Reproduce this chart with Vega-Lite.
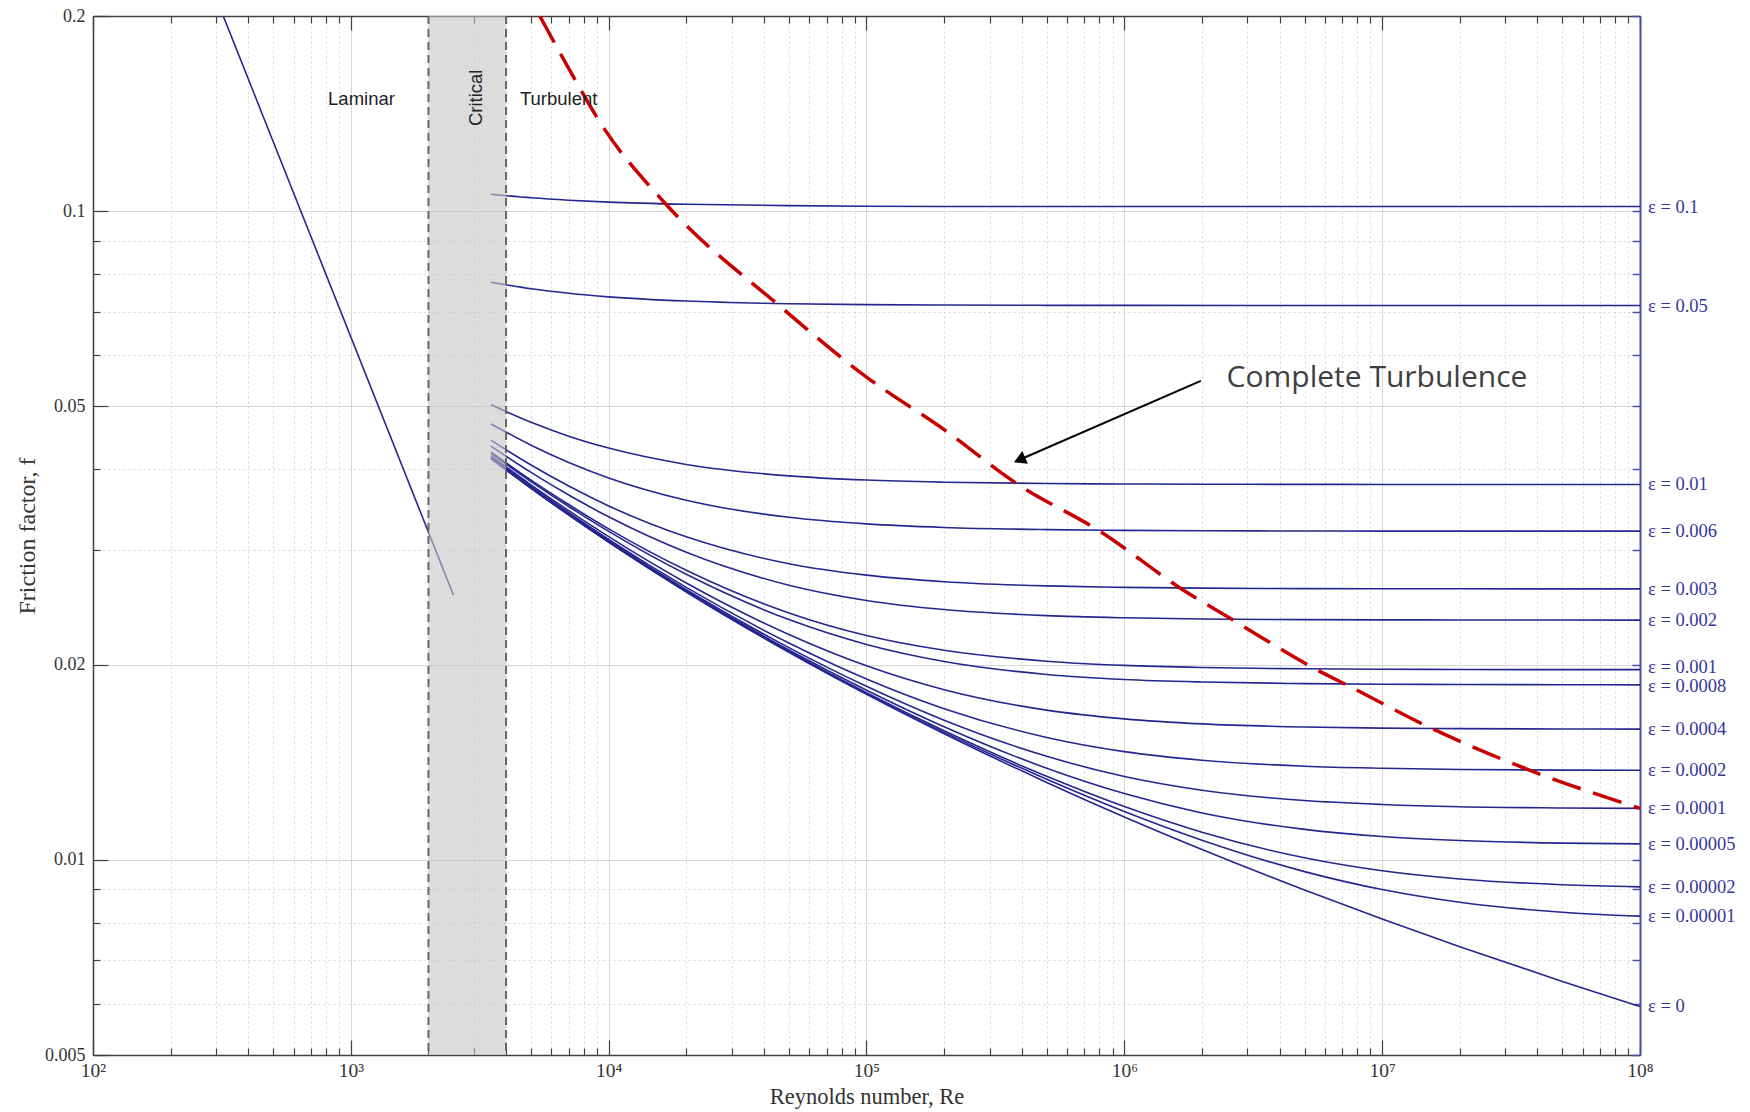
{
  "$schema": "https://vega.github.io/schema/vega-lite/v6.json",
  "width": 1547,
  "height": 1039,
  "autosize": {"type": "none"},
  "padding": {"left": 93, "top": 16, "right": 110, "bottom": 57},
  "background": "white",
  "config": {
    "view": {"stroke": null},
    "axis": {
      "labelFont": "Liberation Serif", "labelFontSize": 18, "labelColor": "#333333",
      "titleFont": "Liberation Serif", "titleFontSize": 22.5, "titleFontWeight": "normal", "titleColor": "#333333"
    }
  },
  "datasets": {
    "curves": [
      {"e":"lam","Re":320,"f":0.2},{"e":"lam","Re":2500,"f":0.0256},
      {"e":"0.1","Re":3500,"f":0.1062},{"e":"0.1","Re":5000,"f":0.1049},{"e":"0.1","Re":7000,"f":0.1040},{"e":"0.1","Re":10000,"f":0.1033},{"e":"0.1","Re":20000,"f":0.1025},{"e":"0.1","Re":50000,"f":0.1020},{"e":"0.1","Re":100000,"f":0.1018},{"e":"0.1","Re":200000,"f":0.1017},{"e":"0.1","Re":1000000,"f":0.1017},{"e":"0.1","Re":10000000,"f":0.1017},{"e":"0.1","Re":100000000,"f":0.1017},
      {"e":"0.05","Re":3500,"f":0.07772},{"e":"0.05","Re":5000,"f":0.07594},{"e":"0.05","Re":7000,"f":0.07473},{"e":"0.05","Re":10000,"f":0.07379},{"e":"0.05","Re":20000,"f":0.07269},{"e":"0.05","Re":50000,"f":0.07201},{"e":"0.05","Re":100000,"f":0.07178},{"e":"0.05","Re":200000,"f":0.07167},{"e":"0.05","Re":500000,"f":0.0716},{"e":"0.05","Re":1000000,"f":0.07158},{"e":"0.05","Re":10000000,"f":0.07156},{"e":"0.05","Re":100000000,"f":0.07155},
      {"e":"0.01","Re":3500,"f":0.05032},{"e":"0.01","Re":5000,"f":0.04726},{"e":"0.01","Re":7000,"f":0.04499},{"e":"0.01","Re":10000,"f":0.04313},{"e":"0.01","Re":20000,"f":0.0407},{"e":"0.01","Re":50000,"f":0.03908},{"e":"0.01","Re":100000,"f":0.0385},{"e":"0.01","Re":200000,"f":0.03821},{"e":"0.01","Re":500000,"f":0.03803},{"e":"0.01","Re":1000000,"f":0.03797},{"e":"0.01","Re":2000000,"f":0.03793},{"e":"0.01","Re":5000000,"f":0.03792},{"e":"0.01","Re":10000000,"f":0.03791},{"e":"0.01","Re":100000000,"f":0.0379},
      {"e":"0.006","Re":3500,"f":0.04697},{"e":"0.006","Re":5000,"f":0.04358},{"e":"0.006","Re":7000,"f":0.04099},{"e":"0.006","Re":10000,"f":0.0388},{"e":"0.006","Re":20000,"f":0.03584},{"e":"0.006","Re":50000,"f":0.03373},{"e":"0.006","Re":100000,"f":0.03295},{"e":"0.006","Re":200000,"f":0.03254},{"e":"0.006","Re":500000,"f":0.03229},{"e":"0.006","Re":1000000,"f":0.0322},{"e":"0.006","Re":2000000,"f":0.03216},{"e":"0.006","Re":5000000,"f":0.03213},{"e":"0.006","Re":10000000,"f":0.03212},{"e":"0.006","Re":100000000,"f":0.03212},
      {"e":"0.003","Re":3500,"f":0.04432},{"e":"0.003","Re":5000,"f":0.04061},{"e":"0.003","Re":7000,"f":0.03769},{"e":"0.003","Re":10000,"f":0.03512},{"e":"0.003","Re":20000,"f":0.03147},{"e":"0.003","Re":50000,"f":0.02861},{"e":"0.003","Re":100000,"f":0.02747},{"e":"0.003","Re":200000,"f":0.02684},{"e":"0.003","Re":500000,"f":0.02644},{"e":"0.003","Re":1000000,"f":0.0263},{"e":"0.003","Re":2000000,"f":0.02623},{"e":"0.003","Re":5000000,"f":0.02619},{"e":"0.003","Re":10000000,"f":0.02618},{"e":"0.003","Re":20000000,"f":0.02617},{"e":"0.003","Re":100000000,"f":0.02616},
      {"e":"0.002","Re":3500,"f":0.04341},{"e":"0.002","Re":5000,"f":0.03957},{"e":"0.002","Re":7000,"f":0.03651},{"e":"0.002","Re":10000,"f":0.03379},{"e":"0.002","Re":20000,"f":0.02979},{"e":"0.002","Re":50000,"f":0.02651},{"e":"0.002","Re":100000,"f":0.02511},{"e":"0.002","Re":200000,"f":0.02431},{"e":"0.002","Re":500000,"f":0.02379},{"e":"0.002","Re":1000000,"f":0.02361},{"e":"0.002","Re":2000000,"f":0.02351},{"e":"0.002","Re":5000000,"f":0.02346},{"e":"0.002","Re":10000000,"f":0.02344},{"e":"0.002","Re":20000000,"f":0.02343},{"e":"0.002","Re":100000000,"f":0.02342},
      {"e":"0.001","Re":3500,"f":0.0425},{"e":"0.001","Re":5000,"f":0.0385},{"e":"0.001","Re":7000,"f":0.0353},{"e":"0.001","Re":10000,"f":0.03237},{"e":"0.001","Re":20000,"f":0.02795},{"e":"0.001","Re":50000,"f":0.02402},{"e":"0.001","Re":100000,"f":0.02217},{"e":"0.001","Re":200000,"f":0.02104},{"e":"0.001","Re":500000,"f":0.02024},{"e":"0.001","Re":1000000,"f":0.01994},{"e":"0.001","Re":2000000,"f":0.01979},{"e":"0.001","Re":5000000,"f":0.0197},{"e":"0.001","Re":10000000,"f":0.01967},{"e":"0.001","Re":20000000,"f":0.01965},{"e":"0.001","Re":50000000,"f":0.01964},{"e":"0.001","Re":100000000,"f":0.01964},
      {"e":"0.0008","Re":3500,"f":0.04231},{"e":"0.0008","Re":5000,"f":0.0383},{"e":"0.0008","Re":7000,"f":0.03505},{"e":"0.0008","Re":10000,"f":0.03209},{"e":"0.0008","Re":20000,"f":0.02755},{"e":"0.0008","Re":50000,"f":0.02346},{"e":"0.0008","Re":100000,"f":0.02148},{"e":"0.0008","Re":200000,"f":0.02022},{"e":"0.0008","Re":500000,"f":0.01931},{"e":"0.0008","Re":1000000,"f":0.01897},{"e":"0.0008","Re":2000000,"f":0.0188},{"e":"0.0008","Re":5000000,"f":0.01869},{"e":"0.0008","Re":10000000,"f":0.01865},{"e":"0.0008","Re":20000000,"f":0.01863},{"e":"0.0008","Re":50000000,"f":0.01862},{"e":"0.0008","Re":100000000,"f":0.01861},
      {"e":"0.0004","Re":3500,"f":0.04193},{"e":"0.0004","Re":5000,"f":0.03786},{"e":"0.0004","Re":7000,"f":0.03454},{"e":"0.0004","Re":10000,"f":0.03149},{"e":"0.0004","Re":20000,"f":0.02672},{"e":"0.0004","Re":50000,"f":0.02225},{"e":"0.0004","Re":100000,"f":0.01991},{"e":"0.0004","Re":200000,"f":0.01829},{"e":"0.0004","Re":500000,"f":0.01701},{"e":"0.0004","Re":1000000,"f":0.01649},{"e":"0.0004","Re":2000000,"f":0.0162},{"e":"0.0004","Re":5000000,"f":0.01602},{"e":"0.0004","Re":10000000,"f":0.01596},{"e":"0.0004","Re":20000000,"f":0.01593},{"e":"0.0004","Re":50000000,"f":0.01591},{"e":"0.0004","Re":100000000,"f":0.0159},
      {"e":"0.0002","Re":3500,"f":0.04173},{"e":"0.0002","Re":5000,"f":0.03763},{"e":"0.0002","Re":7000,"f":0.03429},{"e":"0.0002","Re":10000,"f":0.03119},{"e":"0.0002","Re":20000,"f":0.0263},{"e":"0.0002","Re":50000,"f":0.02159},{"e":"0.0002","Re":100000,"f":0.019},{"e":"0.0002","Re":200000,"f":0.0171},{"e":"0.0002","Re":500000,"f":0.01544},{"e":"0.0002","Re":1000000,"f":0.01468},{"e":"0.0002","Re":2000000,"f":0.01424},{"e":"0.0002","Re":5000000,"f":0.01394},{"e":"0.0002","Re":10000000,"f":0.01384},{"e":"0.0002","Re":20000000,"f":0.01378},{"e":"0.0002","Re":50000000,"f":0.01375},{"e":"0.0002","Re":100000000,"f":0.01374},
      {"e":"0.0001","Re":3500,"f":0.04162},{"e":"0.0001","Re":5000,"f":0.0375},{"e":"0.0001","Re":7000,"f":0.03416},{"e":"0.0001","Re":10000,"f":0.03104},{"e":"0.0001","Re":20000,"f":0.02609},{"e":"0.0001","Re":50000,"f":0.02124},{"e":"0.0001","Re":100000,"f":0.01851},{"e":"0.0001","Re":200000,"f":0.01641},{"e":"0.0001","Re":500000,"f":0.01444},{"e":"0.0001","Re":1000000,"f":0.01344},{"e":"0.0001","Re":2000000,"f":0.0128},{"e":"0.0001","Re":5000000,"f":0.01234},{"e":"0.0001","Re":10000000,"f":0.01217},{"e":"0.0001","Re":20000000,"f":0.01207},{"e":"0.0001","Re":50000000,"f":0.01202},{"e":"0.0001","Re":100000000,"f":0.012},
      {"e":"0.00005","Re":3500,"f":0.04159},{"e":"0.00005","Re":5000,"f":0.03745},{"e":"0.00005","Re":7000,"f":0.03408},{"e":"0.00005","Re":10000,"f":0.03095},{"e":"0.00005","Re":20000,"f":0.02599},{"e":"0.00005","Re":50000,"f":0.02106},{"e":"0.00005","Re":100000,"f":0.01826},{"e":"0.00005","Re":200000,"f":0.01604},{"e":"0.00005","Re":500000,"f":0.01384},{"e":"0.00005","Re":1000000,"f":0.01265},{"e":"0.00005","Re":2000000,"f":0.01181},{"e":"0.00005","Re":5000000,"f":0.01114},{"e":"0.00005","Re":10000000,"f":0.01086},{"e":"0.00005","Re":20000000,"f":0.01071},{"e":"0.00005","Re":50000000,"f":0.01061},{"e":"0.00005","Re":100000000,"f":0.01058},
      {"e":"0.00002","Re":3500,"f":0.04156},{"e":"0.00002","Re":5000,"f":0.03742},{"e":"0.00002","Re":7000,"f":0.03403},{"e":"0.00002","Re":10000,"f":0.03092},{"e":"0.00002","Re":20000,"f":0.02593},{"e":"0.00002","Re":50000,"f":0.02096},{"e":"0.00002","Re":100000,"f":0.0181},{"e":"0.00002","Re":200000,"f":0.01581},{"e":"0.00002","Re":500000,"f":0.01345},{"e":"0.00002","Re":1000000,"f":0.01208},{"e":"0.00002","Re":2000000,"f":0.01103},{"e":"0.00002","Re":5000000,"f":0.01007},{"e":"0.00002","Re":10000000,"f":0.009616},{"e":"0.00002","Re":20000000,"f":0.009341},{"e":"0.00002","Re":50000000,"f":0.009151},{"e":"0.00002","Re":100000000,"f":0.009083},
      {"e":"0.00001","Re":3500,"f":0.04154},{"e":"0.00001","Re":5000,"f":0.03741},{"e":"0.00001","Re":7000,"f":0.03403},{"e":"0.00001","Re":10000,"f":0.0309},{"e":"0.00001","Re":20000,"f":0.02591},{"e":"0.00001","Re":50000,"f":0.02093},{"e":"0.00001","Re":100000,"f":0.01804},{"e":"0.00001","Re":200000,"f":0.01572},{"e":"0.00001","Re":500000,"f":0.01331},{"e":"0.00001","Re":1000000,"f":0.01187},{"e":"0.00001","Re":2000000,"f":0.01072},{"e":"0.00001","Re":5000000,"f":0.009588},{"e":"0.00001","Re":10000000,"f":0.008996},{"e":"0.00001","Re":20000000,"f":0.008599},{"e":"0.00001","Re":50000000,"f":0.008302},{"e":"0.00001","Re":100000000,"f":0.008187},
      {"e":"0","Re":3500,"f":0.04153},{"e":"0","Re":5000,"f":0.0374},{"e":"0","Re":7000,"f":0.03402},{"e":"0","Re":10000,"f":0.03089},{"e":"0","Re":20000,"f":0.02588},{"e":"0","Re":50000,"f":0.02089},{"e":"0","Re":100000,"f":0.01799},{"e":"0","Re":200000,"f":0.01564},{"e":"0","Re":500000,"f":0.01316},{"e":"0","Re":1000000,"f":0.01164},{"e":"0","Re":2000000,"f":0.01037},{"e":"0","Re":5000000,"f":0.008981},{"e":"0","Re":10000000,"f":0.008103},{"e":"0","Re":20000000,"f":0.007345},{"e":"0","Re":50000000,"f":0.006492},{"e":"0","Re":100000000,"f":0.00594}
    ],
    "complete": [
      {"Re":5405,"f":0.2},{"Re":7000,"f":0.166},{"Re":9237,"f":0.1373},{"Re":17000,"f":0.1017},{"Re":45700,"f":0.0716},{"Re":100000,"f":0.0555},{"Re":200000,"f":0.04605},{"Re":387000,"f":0.0379},{"Re":804000,"f":0.0321},{"Re":1667000,"f":0.02616},{"Re":2640000,"f":0.02342},{"Re":5570000,"f":0.01964},{"Re":7490000,"f":0.0185},{"Re":15780000,"f":0.0159},{"Re":37400000,"f":0.01374},{"Re":100000000,"f":0.012}
    ],
    "zone": [{"Re":2000,"Re2":4000}],
    "zoneEdges": [{"Re":2000},{"Re":4000}],
    "arrow": [{"Re":1980000,"f":0.05477},{"Re":392300,"f":0.04138}],
    "arrowHead": [{"Re":392300,"f":0.04138}],
    "epsLabels": [
      {"lab":"ε = 0.1","Re":100000000,"f":0.10166},
      {"lab":"ε = 0.05","Re":100000000,"f":0.07155},
      {"lab":"ε = 0.01","Re":100000000,"f":0.0379},
      {"lab":"ε = 0.006","Re":100000000,"f":0.03212},
      {"lab":"ε = 0.003","Re":100000000,"f":0.02616},
      {"lab":"ε = 0.002","Re":100000000,"f":0.02342},
      {"lab":"ε = 0.001","Re":100000000,"f":0.01984},
      {"lab":"ε = 0.0008","Re":100000000,"f":0.01855},
      {"lab":"ε = 0.0004","Re":100000000,"f":0.0159},
      {"lab":"ε = 0.0002","Re":100000000,"f":0.01374},
      {"lab":"ε = 0.0001","Re":100000000,"f":0.012},
      {"lab":"ε = 0.00005","Re":100000000,"f":0.01058},
      {"lab":"ε = 0.00002","Re":100000000,"f":0.009083},
      {"lab":"ε = 0.00001","Re":100000000,"f":0.008187},
      {"lab":"ε = 0","Re":100000000,"f":0.00594}
    ],
    "regions": [
      {"t":"Laminar","Re":1100,"f":0.149},
      {"t":"Turbulent","Re":6400,"f":0.149}
    ],
    "critical": [{"t":"Critical","Re":3050,"f":0.1496}],
    "note": [{"t":"Complete Turbulence","Re":2492000,"f":0.0553}]
  },
  "layer": [
    {
      "data": {"name": "curves"},
      "mark": {"type": "line", "color": "#26268f", "strokeWidth": 1.6, "clip": true, "interpolate": "monotone"},
      "encoding": {
        "x": {
          "field": "Re", "type": "quantitative",
          "scale": {"type": "log", "domain": [100, 100000000], "nice": false},
          "axis": {
            "orient": "bottom",
            "title": "Reynolds number, Re",
            "titlePadding": -2,
            "values": [100,200,300,400,500,600,700,800,900,1000,2000,3000,4000,5000,6000,7000,8000,9000,10000,20000,30000,40000,50000,60000,70000,80000,90000,100000,200000,300000,400000,500000,600000,700000,800000,900000,1000000,2000000,3000000,4000000,5000000,6000000,7000000,8000000,9000000,10000000,20000000,30000000,40000000,50000000,60000000,70000000,80000000,90000000,100000000],
            "labelExpr": "datum.value==100?'10²':datum.value==1000?'10³':datum.value==10000?'10⁴':datum.value==100000?'10⁵':datum.value==1000000?'10⁶':datum.value==10000000?'10⁷':datum.value==100000000?'10⁸':''",
            "labelFontSize": 19.5,
            "labelFlush": false,
            "labelOverlap": false,
            "labelPadding": 21,
            "tickSize": {"condition": {"test": "indexof([100,1000,10000,100000,1000000,10000000,100000000], datum.value) >= 0", "value": -15}, "value": -7},
            "tickColor": "#404040",
            "tickWidth": 1.2,
            "domainColor": "#404040",
            "domainWidth": 1.5,
            "grid": true,
            "gridColor": "#d6d6d6",
            "gridWidth": 1,
            "gridDash": {"condition": {"test": "indexof([100,1000,10000,100000,1000000,10000000,100000000], datum.value) >= 0", "value": []}, "value": [2, 3]}
          }
        },
        "y": {
          "field": "f", "type": "quantitative",
          "scale": {"type": "log", "domain": [0.005, 0.2], "nice": false},
          "axis": {
            "orient": "left",
            "title": "Friction factor, f",
            "titleFontSize": 24,
            "titlePadding": 5,
            "values": [0.005,0.006,0.007,0.008,0.009,0.01,0.02,0.03,0.04,0.05,0.06,0.07,0.08,0.09,0.1,0.2],
            "format": "~g",
            "labelExpr": "indexof([0.005,0.01,0.02,0.05,0.1,0.2], datum.value) >= 0 ? datum.label : ''",
            "labelOverlap": false,
            "labelFlush": false,
            "labelPadding": 23,
            "tickSize": {"condition": {"test": "indexof([0.005,0.01,0.02,0.05,0.1,0.2], datum.value) >= 0", "value": -15}, "value": -7},
            "tickColor": "#404040",
            "tickWidth": 1.2,
            "domainColor": "#404040",
            "domainWidth": 1.5,
            "grid": true,
            "gridColor": "#d6d6d6",
            "gridWidth": 1,
            "gridDash": {"condition": {"test": "indexof([0.005,0.01,0.02,0.05,0.1,0.2], datum.value) >= 0", "value": []}, "value": [2, 3]}
          }
        },
        "detail": {"field": "e", "type": "nominal"}
      }
    },
    {
      "data": {"name": "zone"},
      "mark": {"type": "rect", "color": "#c4c4c4", "opacity": 0.6},
      "encoding": {
        "x": {"field": "Re", "type": "quantitative", "scale": {"type": "log", "domain": [100, 100000000], "nice": false}, "axis": null},
        "x2": {"field": "Re2"}
      }
    },
    {
      "data": {"name": "zoneEdges"},
      "mark": {"type": "rule", "color": "#666666", "strokeWidth": 2, "strokeDash": [8, 5]},
      "encoding": {
        "x": {"field": "Re", "type": "quantitative", "scale": {"type": "log", "domain": [100, 100000000], "nice": false}, "axis": null}
      }
    },
    {
      "data": {"name": "complete"},
      "mark": {"type": "line", "color": "#c80000", "strokeWidth": 3.5, "strokeDash": [30, 13], "clip": true, "interpolate": "monotone"},
      "encoding": {
        "x": {
          "field": "Re", "type": "quantitative",
          "scale": {"type": "log", "domain": [100, 100000000], "nice": false},
          "axis": {
            "orient": "top", "title": null, "labels": false, "grid": false,
            "values": [100,200,300,400,500,600,700,800,900,1000,2000,3000,4000,5000,6000,7000,8000,9000,10000,20000,30000,40000,50000,60000,70000,80000,90000,100000,200000,300000,400000,500000,600000,700000,800000,900000,1000000,2000000,3000000,4000000,5000000,6000000,7000000,8000000,9000000,10000000,20000000,30000000,40000000,50000000,60000000,70000000,80000000,90000000,100000000],
            "tickSize": {"condition": {"test": "indexof([100,1000,10000,100000,1000000,10000000,100000000], datum.value) >= 0", "value": -14}, "value": -7},
            "tickColor": "#404040", "tickWidth": 1.2,
            "domainColor": "#404040", "domainWidth": 1.5
          }
        },
        "y": {
          "field": "f", "type": "quantitative",
          "scale": {"type": "log", "domain": [0.005, 0.2], "nice": false},
          "axis": {
            "orient": "right", "title": null, "labels": false, "grid": false,
            "values": [0.005,0.006,0.007,0.008,0.009,0.01,0.02,0.03,0.04,0.05,0.06,0.07,0.08,0.09,0.1,0.2],
            "tickSize": -8, "tickColor": "#4d4da8", "tickWidth": 1.5,
            "domainColor": "#4d4da8", "domainWidth": 2
          }
        }
      }
    },
    {
      "data": {"name": "arrow"},
      "mark": {"type": "line", "color": "#000000", "strokeWidth": 2},
      "encoding": {
        "x": {"field": "Re", "type": "quantitative", "scale": {"type": "log", "domain": [100, 100000000], "nice": false}, "axis": null},
        "y": {"field": "f", "type": "quantitative", "scale": {"type": "log", "domain": [0.005, 0.2], "nice": false}, "axis": null}
      }
    },
    {
      "data": {"name": "arrowHead"},
      "mark": {"type": "point", "shape": "triangle-up", "filled": true, "color": "#000000", "opacity": 1, "size": 196, "angle": 246.5},
      "encoding": {
        "x": {"field": "Re", "type": "quantitative", "scale": {"type": "log", "domain": [100, 100000000], "nice": false}, "axis": null},
        "y": {"field": "f", "type": "quantitative", "scale": {"type": "log", "domain": [0.005, 0.2], "nice": false}, "axis": null}
      }
    },
    {
      "data": {"name": "epsLabels"},
      "mark": {"type": "text", "align": "left", "baseline": "middle", "dx": 8, "font": "Liberation Serif", "fontSize": 18.5, "color": "#3535a0"},
      "encoding": {
        "x": {"field": "Re", "type": "quantitative", "scale": {"type": "log", "domain": [100, 100000000], "nice": false}, "axis": null},
        "y": {"field": "f", "type": "quantitative", "scale": {"type": "log", "domain": [0.005, 0.2], "nice": false}, "axis": null},
        "text": {"field": "lab"}
      }
    },
    {
      "data": {"name": "regions"},
      "mark": {"type": "text", "align": "center", "baseline": "middle", "font": "Liberation Sans", "fontSize": 18.5, "color": "#222222"},
      "encoding": {
        "x": {"field": "Re", "type": "quantitative", "scale": {"type": "log", "domain": [100, 100000000], "nice": false}, "axis": null},
        "y": {"field": "f", "type": "quantitative", "scale": {"type": "log", "domain": [0.005, 0.2], "nice": false}, "axis": null},
        "text": {"field": "t"}
      }
    },
    {
      "data": {"name": "critical"},
      "mark": {"type": "text", "align": "center", "baseline": "middle", "angle": 270, "font": "Liberation Sans", "fontSize": 18.5, "color": "#222222"},
      "encoding": {
        "x": {"field": "Re", "type": "quantitative", "scale": {"type": "log", "domain": [100, 100000000], "nice": false}, "axis": null},
        "y": {"field": "f", "type": "quantitative", "scale": {"type": "log", "domain": [0.005, 0.2], "nice": false}, "axis": null},
        "text": {"field": "t"}
      }
    },
    {
      "data": {"name": "note"},
      "mark": {"type": "text", "align": "left", "baseline": "middle", "font": "Open Sans", "fontSize": 30, "color": "#404040"},
      "encoding": {
        "x": {"field": "Re", "type": "quantitative", "scale": {"type": "log", "domain": [100, 100000000], "nice": false}, "axis": null},
        "y": {"field": "f", "type": "quantitative", "scale": {"type": "log", "domain": [0.005, 0.2], "nice": false}, "axis": null},
        "text": {"field": "t"}
      }
    }
  ],
  "resolve": {"axis": {"x": "independent", "y": "independent"}}
}
